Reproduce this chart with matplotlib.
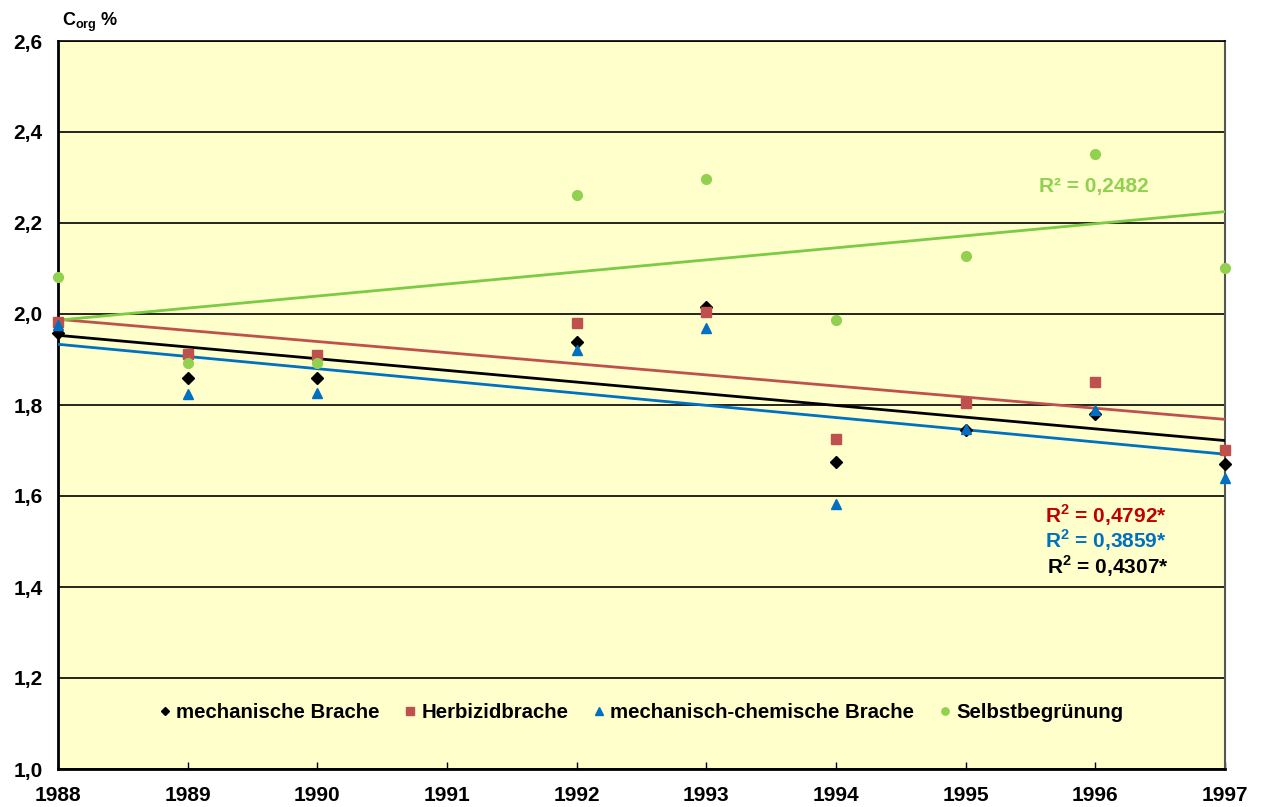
import matplotlib
matplotlib.use('Agg')
import matplotlib.pyplot as plt
import numpy as np

plt.rcParams['font.family'] = ['Liberation Sans', 'DejaVu Sans']
plt.rcParams['font.weight'] = 'bold'
plt.rcParams['mathtext.fontset'] = 'custom'
plt.rcParams['mathtext.rm'] = 'Liberation Sans:bold'
plt.rcParams['mathtext.bf'] = 'Liberation Sans:bold'

# === DATA ===
years = [1988, 1989, 1990, 1992, 1993, 1994, 1995, 1996, 1997]
mech = [1.958, 1.859, 1.859, 1.938, 2.015, 1.675, 1.745, 1.780, 1.670]
herb = [1.982, 1.912, 1.910, 1.980, 2.004, 1.725, 1.804, 1.851, 1.701]
mechchem = [1.976, 1.824, 1.826, 1.921, 1.969, 1.582, 1.747, 1.789, 1.640]
selbst = [2.081, 1.892, 1.892, 2.262, 2.297, 1.987, 2.127, 2.352, 2.101]

labels = ['mechanische Brache', 'Herbizidbrache',
          'mechanisch-chemische Brache', 'Selbstbegrünung']
r2_text = ['R$^2$ = 0,4307*', 'R$^2$ = 0,4792*', 'R$^2$ = 0,3859*', 'R² = 0,2482']

x_ticks = list(range(1988, 1998))
y_ticks = [1.0, 1.2, 1.4, 1.6, 1.8, 2.0, 2.2, 2.4, 2.6]
y_ticklabels = ['1,0', '1,2', '1,4', '1,6', '1,8', '2,0', '2,2', '2,4', '2,6']

# === STYLE ===
series = [
    (mech, 'D', 6, '#000000', '#000000'),
    (herb, 's', 7, '#C0504D', '#C0504D'),
    (mechchem, '^', 7, '#0070C0', '#0070C0'),
    (selbst, 'o', 7, '#92D050', '#7CCB45'),
]

fig = plt.figure(figsize=(12.62, 8.07), dpi=100)
ax = fig.add_axes([58 / 1262, 1 - 769 / 807, (1225 - 58) / 1262, (769 - 41) / 807])
ax.set_facecolor('#FFFFCC')

for yv in y_ticks:
    ax.axhline(yv, color='black', lw=1.2, zorder=1)

# markers + linear trend lines
xx = np.array([1988, 1997])
handles = []
for vals, m, ms, mc, lc in series:
    h, = ax.plot(years, vals, m, ms=ms, color=mc, ls='none', zorder=4, clip_on=False)
    handles.append(h)
    k, b = np.polyfit(years, vals, 1)
    ax.plot(xx, k * xx + b, color=lc, lw=2, zorder=3)

ax.set_xlim(1988, 1997)
ax.set_ylim(1.0, 2.6)
ax.set_xticks(x_ticks)
ax.set_xticklabels([str(v) for v in x_ticks], fontsize=15, fontweight='bold')
ax.set_yticks(y_ticks)
ax.set_yticklabels(y_ticklabels, fontsize=15, fontweight='bold')
ax.tick_params(axis='x', direction='in', length=5, width=1, pad=12)
ax.tick_params(axis='y', length=0, pad=11)

for s in ['left', 'bottom']:
    ax.spines[s].set_linewidth(2)
ax.spines['top'].set_linewidth(1.2)
ax.spines['right'].set_color('#555555')
ax.spines['right'].set_linewidth(1.5)

# R² annotations
ax.text(1995.99, 2.281, r2_text[3], color='#92D050', fontsize=15, ha='center', va='center')
ax.text(1996.08, 1.558, r2_text[1], color='#C00000', fontsize=15, ha='center', va='center')
ax.text(1996.08, 1.503, r2_text[2], color='#0070C0', fontsize=15, ha='center', va='center')
ax.text(1996.10, 1.446, r2_text[0], color='#000000', fontsize=15, ha='center', va='center')

leg = ax.legend(handles, labels, loc='center', bbox_to_anchor=(0.5, 0.077),
                ncol=4, frameon=False, fontsize=14.7, handlelength=0.5,
                handletextpad=0.3, columnspacing=1.25, markerscale=0.75)

fig.text(62 / 1262, 1 - 22 / 807, r'C$_{\mathrm{org}}$ %', fontsize=13,
         fontweight='bold', va='center', ha='left')

fig.savefig('out.png', dpi=100, facecolor='white')
